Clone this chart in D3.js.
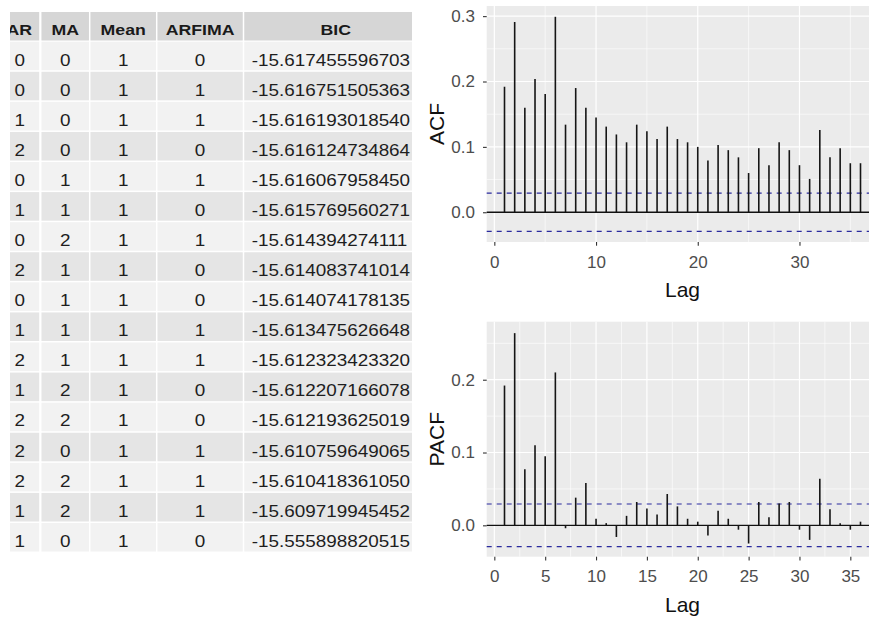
<!DOCTYPE html>
<html>
<head>
<meta charset="utf-8">
<script src="https://cdn.jsdelivr.net/npm/d3@7"></script>
<style>
  body { margin: 0; background: #fff; }
  svg { display: block; font-family: "Liberation Sans", Arial, sans-serif; }
</style>
</head>
<body>
<div id="chart"></div>
<script>
// DATA ///////////////////////////////////////////////////////////////////////
const columns = ["AR", "MA", "Mean", "ARFIMA", "BIC"];
const arOrder = [0, 0, 1, 2, 0, 1, 0, 2, 0, 1, 2, 1, 2, 2, 2, 1, 1];
const maOrder = [0, 0, 0, 0, 1, 1, 2, 1, 1, 1, 1, 2, 2, 0, 2, 2, 0];
const meanFlag = [1, 1, 1, 1, 1, 1, 1, 1, 1, 1, 1, 1, 1, 1, 1, 1, 1];
const arfimaFlag = [0, 1, 1, 0, 1, 0, 1, 0, 0, 1, 1, 0, 0, 1, 1, 1, 0];
const bicValues = [
  "-15.617455596703", "-15.616751505363", "-15.616193018540", "-15.616124734864",
  "-15.616067958450", "-15.615769560271", "-15.614394274111", "-15.614083741014",
  "-15.614074178135", "-15.613475626648", "-15.612323423320", "-15.612207166078",
  "-15.612193625019", "-15.610759649065", "-15.610418361050", "-15.609719945452",
  "-15.555898820515"
];

const acfValues = [0.192, 0.291, 0.160, 0.204, 0.181, 0.299, 0.134, 0.190, 0.160, 0.145,
  0.131, 0.119, 0.107, 0.134, 0.124, 0.112, 0.131, 0.112, 0.107, 0.100,
  0.079, 0.103, 0.095, 0.084, 0.060, 0.098, 0.072, 0.107, 0.095, 0.072,
  0.051, 0.126, 0.084, 0.098, 0.075, 0.075];
const pacfValues = [0.192, 0.264, 0.077, 0.110, 0.095, 0.210, -0.004, 0.038, 0.058, 0.009,
  0.003, -0.016, 0.013, 0.032, 0.023, 0.015, 0.043, 0.026, 0.009, 0.005,
  -0.014, 0.020, 0.009, -0.006, -0.025, 0.032, 0.011, 0.030, 0.032, -0.006,
  -0.020, 0.064, 0.022, 0.003, -0.006, 0.005];
const ciLimit = 0.0293;

const acfTicksX = [0, 10, 20, 30];
const acfMinorX = [5, 15, 25, 35];
const acfTicksY = [0, 0.1, 0.2, 0.3];
const acfMinorY = [0.05, 0.15, 0.25];
const pacfTicksX = [0, 5, 10, 15, 20, 25, 30, 35];
const pacfMinorX = [2.5, 7.5, 12.5, 17.5, 22.5, 27.5, 32.5, 37.5];
const pacfTicksY = [0, 0.1, 0.2];
const pacfMinorY = [0.05, 0.15, 0.25];

// SVG ////////////////////////////////////////////////////////////////////////
const W = 869, H = 621;
const svg = d3.select("#chart").append("svg")
  .attr("width", W)
  .attr("height", H);

// TABLE ///////////////////////////////////////////////////////////////////////
const colEdges = [-2, 40.7, 89.7, 156.7, 243.5, 436];
const gap = 1.5;
const headerTop = 12, headerH = 28.5;
const rowTop = 41.7, rowH = 30.08;
const tableClipRight = 412;

svg.append("clipPath").attr("id", "tableClip")
  .append("rect").attr("x", 10).attr("y", 0).attr("width", tableClipRight - 10).attr("height", H);

const table = svg.append("g").attr("clip-path", "url(#tableClip)");

const rows = arOrder.map((d, i) => [d, maOrder[i], meanFlag[i], arfimaFlag[i], bicValues[i]]);

// header cells
columns.forEach((c, j) => {
  table.append("rect")
    .attr("x", colEdges[j] + (j > 0 ? gap / 2 : 0))
    .attr("y", headerTop)
    .attr("width", colEdges[j + 1] - colEdges[j] - gap)
    .attr("height", headerH)
    .attr("fill", "#d6d6d6");
  const cx = (colEdges[j] + colEdges[j + 1]) / 2 + (j == 4 ? -4 : 0);
  table.append("text")
    .attr("transform", `translate(${cx},${headerTop + 23}) scale(1.18,1)`)
    .attr("text-anchor", "middle")
    .attr("font-size", "15px")
    .attr("font-weight", "bold")
    .attr("fill", "#1a1a1a")
    .text(c);
});

// body rows
rows.forEach((r, i) => {
  const y0 = rowTop + i * rowH;
  const fill = i % 2 == 0 ? "#f2f2f2" : "#e5e5e5";
  r.forEach((v, j) => {
    table.append("rect")
      .attr("x", colEdges[j] + (j > 0 ? gap / 2 : 0))
      .attr("y", y0)
      .attr("width", colEdges[j + 1] - colEdges[j] - gap)
      .attr("height", rowH - gap)
      .attr("fill", fill);
    const t = table.append("text")
      .attr("font-size", "16px")
      .attr("fill", "#1e1e1e");
    if (j == 4) {
      t.attr("transform", `translate(251.7,${y0 + 23.8}) scale(1.18,1)`)
        .attr("text-anchor", "start");
    } else {
      const cx = (colEdges[j] + colEdges[j + 1]) / 2 + (j == 0 ? 0.5 : 0);
      t.attr("transform", `translate(${cx},${y0 + 23.8}) scale(1.18,1)`)
        .attr("text-anchor", "middle");
    }
    t.text(v);
  });
});

// ACF / PACF PANELS ///////////////////////////////////////////////////////////
function drawCorrPanel(opts) {
  const { values, top, bottom, yDomain, ticksX, minorX, ticksY, minorY, yTitle } = opts;
  const left = 486.7, right = 878.3;
  const x = d3.scaleLinear().domain([-0.75, 37.75]).range([left, right]);
  const y = d3.scaleLinear().domain(yDomain).range([bottom, top]);
  const g = svg.append("g");

  g.append("rect")
    .attr("x", left).attr("y", top)
    .attr("width", right - left).attr("height", bottom - top)
    .attr("fill", "#ebebeb");

  // minor grid
  g.selectAll(".minor-y").data(minorY).enter().append("line")
    .attr("x1", left).attr("x2", right)
    .attr("y1", d => y(d)).attr("y2", d => y(d))
    .attr("stroke", "#fff").attr("stroke-width", 0.6);
  g.selectAll(".minor-x").data(minorX).enter().append("line")
    .attr("y1", top).attr("y2", bottom)
    .attr("x1", d => x(d)).attr("x2", d => x(d))
    .attr("stroke", "#fff").attr("stroke-width", 0.6);
  // major grid
  g.selectAll(".major-y").data(ticksY).enter().append("line")
    .attr("x1", left).attr("x2", right)
    .attr("y1", d => y(d)).attr("y2", d => y(d))
    .attr("stroke", "#fff").attr("stroke-width", 1.2);
  g.selectAll(".major-x").data(ticksX).enter().append("line")
    .attr("y1", top).attr("y2", bottom)
    .attr("x1", d => x(d)).attr("x2", d => x(d))
    .attr("stroke", "#fff").attr("stroke-width", 1.2);

  // confidence bounds
  g.selectAll(".ci").data([ciLimit, -ciLimit]).enter().append("line")
    .attr("x1", left).attr("x2", right)
    .attr("y1", d => y(d)).attr("y2", d => y(d))
    .attr("stroke", "#2b2b9e").attr("stroke-width", 1.2)
    .attr("stroke-dasharray", "5,5");

  // zero line
  g.append("line")
    .attr("x1", left).attr("x2", right)
    .attr("y1", y(0)).attr("y2", y(0))
    .attr("stroke", "#111").attr("stroke-width", 1.3);

  // lag segments
  g.selectAll(".seg").data(values).enter().append("line")
    .attr("x1", (d, i) => x(i + 1)).attr("x2", (d, i) => x(i + 1))
    .attr("y1", y(0)).attr("y2", d => y(d))
    .attr("stroke", "#151515").attr("stroke-width", 1.6);

  // axes
  const yAxis = d3.axisLeft(y).tickValues(ticksY).tickFormat(d3.format(".1f")).tickSize(3.7).tickPadding(8);
  const ya = g.append("g").attr("transform", `translate(${left},0)`).call(yAxis);
  const xAxis = d3.axisBottom(x).tickValues(ticksX).tickFormat(d3.format("d")).tickSize(3.7).tickPadding(10);
  const xa = g.append("g").attr("transform", `translate(0,${bottom})`).call(xAxis);
  [ya, xa].forEach(a => {
    a.select(".domain").remove();
    a.selectAll(".tick line").attr("stroke", "#333").attr("stroke-width", 1.1);
    a.selectAll(".tick text")
      .attr("fill", "#4d4d4d")
      .attr("font-size", "17px")
      .attr("font-family", "Liberation Sans, Arial, sans-serif");
  });

  // titles
  g.append("text")
    .attr("x", (left + right) / 2)
    .attr("y", bottom + 55)
    .attr("text-anchor", "middle")
    .attr("font-size", "21px")
    .attr("fill", "#111")
    .text("Lag");
  g.append("text")
    .attr("transform", `translate(444,${(top + bottom) / 2}) rotate(-90)`)
    .attr("text-anchor", "middle")
    .attr("font-size", "21px")
    .attr("fill", "#111")
    .text(yTitle);
}

drawCorrPanel({
  values: acfValues, top: 6, bottom: 242, yDomain: [-0.0455, 0.3155],
  ticksX: acfTicksX, minorX: acfMinorX, ticksY: acfTicksY, minorY: acfMinorY, yTitle: "ACF"
});
drawCorrPanel({
  values: pacfValues, top: 321.7, bottom: 556.7, yDomain: [-0.0431, 0.2797],
  ticksX: pacfTicksX, minorX: pacfMinorX, ticksY: pacfTicksY, minorY: pacfMinorY, yTitle: "PACF"
});
</script>
</body>
</html>
